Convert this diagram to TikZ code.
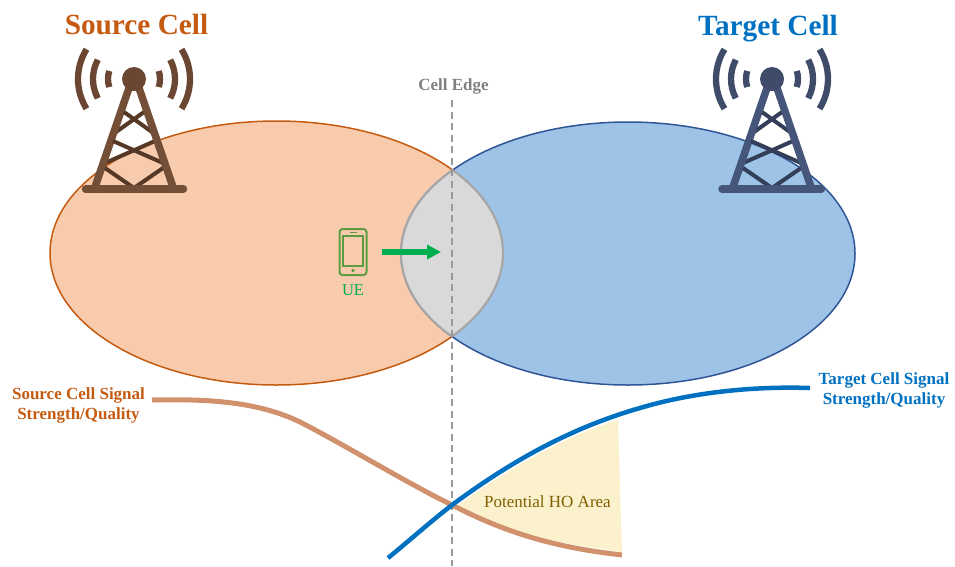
\documentclass[tikz,border=0pt]{standalone}
\usepackage{fontspec}
\setmainfont{Liberation Serif}
\definecolor{srcE}{HTML}{C55A11}
\definecolor{srcF}{HTML}{F8CBAD}
\definecolor{tgtE}{HTML}{2F5597}
\definecolor{tgtF}{HTML}{9DC3E6}
\definecolor{lensF}{HTML}{D9D9D9}
\definecolor{lensE}{HTML}{A6A6A6}
\definecolor{tBlue}{HTML}{0070C0}
\definecolor{srcCurve}{HTML}{D2916D}
\definecolor{yel}{HTML}{FCF1CD}
\definecolor{hoText}{HTML}{7F6000}
\definecolor{grayT}{HTML}{7F7F7F}
\definecolor{dashG}{HTML}{999999}
\definecolor{ueG}{HTML}{00B050}
\definecolor{phoneG}{HTML}{5E9C42}
\definecolor{tsA}{HTML}{6B4733}
\definecolor{tsB}{HTML}{734F38}
\definecolor{tsC}{HTML}{553826}
\definecolor{ttA}{HTML}{3F4C69}
\definecolor{ttB}{HTML}{46557A}
\definecolor{ttC}{HTML}{333F58}
\usetikzlibrary{arrows.meta}
\tikzset{
  wave/.style={line width=6.3pt},
  crossbar/.style={line width=4pt},
  legbar/.style={line width=7.5pt},
  basebar/.style={line width=7.5pt,line cap=round},
  title/.style={font=\bfseries\fontsize{29.3}{32}\selectfont,inner sep=0pt,anchor=base},
  siglabel/.style={font=\bfseries\fontsize{17}{20}\selectfont,align=center,inner sep=0pt},
  cellborder/.style={line width=1.5pt},
}
\begin{document}
\begin{tikzpicture}[x=1pt,y=-1pt]
\useasboundingbox (0,0) rectangle (955,566);
% cells
\draw[srcE,fill=srcF,cellborder] (276.5,253) ellipse[x radius=226.5,y radius=132];
\draw[tgtE,fill=tgtF,cellborder] (628,253.5) ellipse[x radius=227,y radius=131.5];
\begin{scope}
 \clip (276.5,253) ellipse[x radius=226.5,y radius=132];
 \fill[lensF] (628,253.5) ellipse[x radius=227,y radius=131.5];
 \draw[lensE,line width=2.2pt] (628,253.5) ellipse[x radius=227,y radius=131.5];
\end{scope}
\begin{scope}
 \clip (628,253.5) ellipse[x radius=227,y radius=131.5];
 \draw[lensE,line width=2.2pt] (276.5,253) ellipse[x radius=226.5,y radius=132];
\end{scope}
% yellow
\fill[yel] (458,505) .. controls (510,468) and (565,436) .. (618,420) -- (622,552) .. controls (560,543) and (510,535) .. (458,508) -- cycle;
% edge
\coordinate (edgeT) at (452,100);
\coordinate (edgeB) at (452,566);
\draw[dashG,line width=1.5pt,dash pattern=on 7pt off 4.5pt] (edgeT)--(edgeB);
\node[font=\bfseries\fontsize{17}{20}\selectfont,text=grayT,inner sep=0pt] (edgeL) at (453.5,86) {Cell Edge};
% titles
\node[title,text=srcE] (srcTitle) at (136.5,34) {Source Cell};
\node[title,text=tBlue] (tgtTitle) at (768,35) {Target Cell};
% towers
\begin{scope}[shift={(134,0)}]
 \foreach \s in {-1,1}{
  \draw[tsC,crossbar] (\s*-10,112)--(\s*18,132);
  \draw[tsC,crossbar] (\s*-21,141)--(\s*29,163);
  \draw[tsC,crossbar] (\s*-29,168)--(\s*0,188);
  \draw[tsB,legbar] (\s*5,88)--(\s*39,187);
 }
 \foreach \a/\r in {18/26,28/41,32/56}{
  \draw[tsA,wave] ([shift={(0,79)}]-\a:\r) arc[start angle=-\a,delta angle=2*\a,radius=\r];
  \draw[tsA,wave] ([shift={(0,79)}]180-\a:\r) arc[start angle=180-\a,delta angle=2*\a,radius=\r];
 }
 \draw[tsB,basebar] (-48.5,189)--(49.5,189);
 \fill[tsA] (0,79) circle[radius=12];
\end{scope}
\begin{scope}[shift={(772,0)}]
 \foreach \s in {-1,1}{
  \draw[ttC,crossbar] (\s*-10,112)--(\s*18,132);
  \draw[ttC,crossbar] (\s*-21,141)--(\s*29,163);
  \draw[ttC,crossbar] (\s*-29,168)--(\s*0,188);
  \draw[ttB,legbar] (\s*5,88)--(\s*39,187);
 }
 \foreach \a/\r in {18/26,28/41,32/56}{
  \draw[ttA,wave] ([shift={(0,79)}]-\a:\r) arc[start angle=-\a,delta angle=2*\a,radius=\r];
  \draw[ttA,wave] ([shift={(0,79)}]180-\a:\r) arc[start angle=180-\a,delta angle=2*\a,radius=\r];
 }
 \draw[ttB,basebar] (-50,189)--(49.5,189);
 \fill[ttA] (0,79) circle[radius=12];
\end{scope}
% phone
\draw[phoneG,line width=2pt,rounded corners=3pt] (339.5,229) rectangle (366.5,275);
\draw[phoneG,line width=2pt] (343,236) rectangle (362.5,266);
\draw[phoneG,line width=1.6pt] (349.5,232.5)--(356.5,232.5);
\fill[phoneG] (353,270.5) circle[radius=1.9];
\node[font=\fontsize{16.5}{18}\selectfont,text=ueG,inner sep=0pt] (ue) at (353,290.5) {UE};
\coordinate (arrS) at (382,252);
\coordinate (arrE) at (441,252);
\draw[ueG,line width=5.5pt,-{Triangle[length=14pt,width=14pt]}] (arrS)--(arrE);
% curves
\coordinate (sS) at (152,400);
\coordinate (sE) at (622,555);
\coordinate (tS) at (388,558);
\coordinate (tE) at (810,388);
\draw[srcCurve,line width=5pt] (sS) .. controls (200,399) and (255,400) .. (300,422) .. controls (345,445) and (405,482) .. (452,505) .. controls (510,535) and (560,548) .. (sE);
\draw[tBlue,line width=4.5pt] (tS) .. controls (410,540) and (430,522) .. (452,505) .. controls (510,462) and (570,428) .. (640,408) .. controls (690,393) and (750,386) .. (tE);
% labels
\node[siglabel,text=srcE] (srcSig) at (78.5,405) {Source Cell Signal\\Strength/Quality};
\node[siglabel,text=tBlue] (tgtSig) at (884,390) {Target Cell Signal\\Strength/Quality};
\node[font=\fontsize{17}{18}\selectfont,text=hoText,inner sep=0pt] (ho) at (547.5,502) {Potential HO Area};
\end{tikzpicture}
\end{document}
